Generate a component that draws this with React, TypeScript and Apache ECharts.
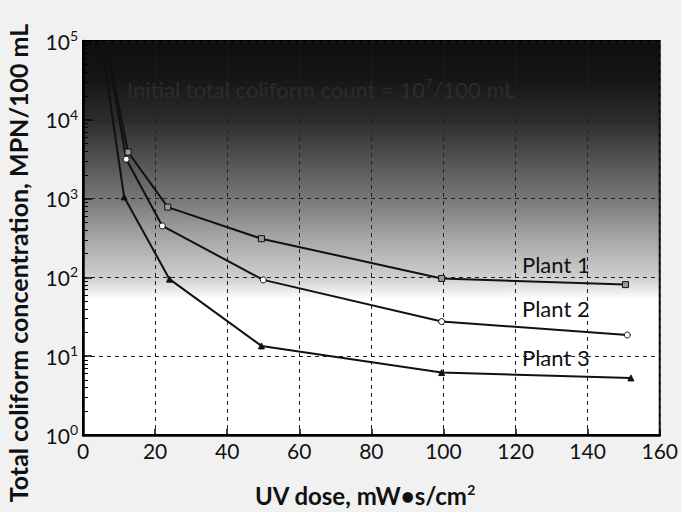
import React, { useEffect, useRef } from "react";
import * as echarts from "echarts";

const xTicks = [0, 20, 40, 60, 80, 100, 120, 140, 160];
const yTicks = [1, 10, 100, 1000, 10000, 100000];

const plant1Dose = [6.3, 12.5, 23.5, 49.5, 99.5, 150.5];
const plant1Count = [100000, 3900, 780, 310, 97, 81];
const plant2Dose = [6.3, 12, 22, 50, 99.5, 151];
const plant2Count = [100000, 3160, 450, 93, 27.5, 18.6];
const plant3Dose = [5.1, 11.4, 24, 49.5, 99.5, 152];
const plant3Count = [100000, 1050, 95, 13.5, 6.2, 5.3];

const plantNames = ["Plant 1", "Plant 2", "Plant 3"];

const FONT = "Lato, 'Open Sans', sans-serif";

function build(dose: number[], count: number[]) {
  return dose.map((d, i) =>
    i === 0 ? { value: [d, count[i]], symbol: "none" } : { value: [d, count[i]] }
  );
}

export default function App() {
  const ref = useRef<HTMLDivElement>(null);
  useEffect(() => {
    if (!ref.current) return;
    const chart = echarts.init(ref.current, null, { renderer: "svg" });
    const lineStyle = { color: "#111", width: 2 };
    const bg = new echarts.graphic.LinearGradient(0, 0, 0, 1, [
      { offset: 0, color: "#0e0e0e" },
      { offset: 0.1, color: "#161616" },
      { offset: 0.2, color: "#2c2c2c" },
      { offset: 0.4, color: "#777777" },
      { offset: 0.5, color: "#a6a6a6" },
      { offset: 0.6, color: "#cfcfcf" },
      { offset: 0.635, color: "#ececec" },
      { offset: 0.655, color: "#ffffff" },
      { offset: 1, color: "#ffffff" },
    ]);
    chart.setOption({
      animation: false,
      backgroundColor: "#f1f1f1",
      grid: {
        left: 83,
        right: 16,
        top: 41,
        bottom: 77,
        show: true,
        backgroundColor: bg,
        borderColor: "#000",
        borderWidth: 2,
      },
      xAxis: {
        type: "value",
        min: 0,
        max: 160,
        interval: 20,
        axisLine: { show: true, lineStyle: { color: "#000", width: 2.5 } },
        axisTick: { show: true, inside: true, length: 6, lineStyle: { color: "#000", width: 1.5 } },
        axisLabel: {
          color: "#111",
          fontSize: 21,
          fontFamily: FONT,
          margin: 5,
          formatter: (v: number) => (xTicks.includes(v) ? String(v) : ""),
        },
        splitLine: { show: true, lineStyle: { color: "#222", type: [4, 4], width: 1 } },
      },
      yAxis: {
        type: "log",
        logBase: 10,
        min: yTicks[0],
        max: yTicks[yTicks.length - 1],
        axisLine: { show: true, lineStyle: { color: "#000", width: 2.5 } },
        axisTick: { show: true, inside: true, length: 9, lineStyle: { color: "#000", width: 1.5 } },
        minorTick: { show: true, splitNumber: 9, length: 5, lineStyle: { color: "#000", width: 1 } },
        axisLabel: {
          color: "#111",
          fontFamily: FONT,
          margin: 5,
          formatter: (v: number) => `{b|10}{s|${Math.round(Math.log10(v))}}`,
          rich: {
            b: { fontSize: 21, fontFamily: FONT, color: "#111" },
            s: { fontSize: 14, fontFamily: FONT, color: "#111", padding: [0, 0, 11, 0] },
          },
        },
        splitLine: { show: true, lineStyle: { color: "#222", type: [4, 4], width: 1 } },
      },
      series: [
        {
          name: plantNames[0],
          type: "line",
          data: build(plant1Dose, plant1Count),
          symbol: "rect",
          symbolSize: 6,
          itemStyle: { color: "#9a9a9a", borderColor: "#111", borderWidth: 1 },
          lineStyle,
          z: 3,
        },
        {
          name: plantNames[1],
          type: "line",
          data: build(plant2Dose, plant2Count),
          symbol: "circle",
          symbolSize: 6,
          itemStyle: { color: "#fff", borderColor: "#111", borderWidth: 1 },
          lineStyle,
          z: 3,
        },
        {
          name: plantNames[2],
          type: "line",
          data: build(plant3Dose, plant3Count),
          symbol: "triangle",
          symbolSize: 6,
          itemStyle: { color: "#111", borderColor: "#111", borderWidth: 1 },
          lineStyle,
          z: 3,
        },
      ],
      graphic: [
        {
          type: "text",
          x: 127,
          y: 89,
          style: {
            text: "{t|Initial total coliform count = 10}{s|7}{t|/100 mL}",
            rich: {
              t: { fontSize: 22, fontFamily: FONT, fill: "#2c2c2c" },
              s: { fontSize: 13, fontFamily: FONT, fill: "#2c2c2c", padding: [0, 0, 11, 0] },
            },
            verticalAlign: "middle",
          },
          z: 10,
        },
        {
          type: "text",
          x: 522,
          y: 264,
          style: { text: plantNames[0], fontSize: 22, fontFamily: FONT, fill: "#111", verticalAlign: "middle" },
          z: 10,
        },
        {
          type: "text",
          x: 522,
          y: 308,
          style: { text: plantNames[1], fontSize: 22, fontFamily: FONT, fill: "#111", verticalAlign: "middle" },
          z: 10,
        },
        {
          type: "text",
          x: 522,
          y: 357,
          style: { text: plantNames[2], fontSize: 22, fontFamily: FONT, fill: "#111", verticalAlign: "middle" },
          z: 10,
        },
        {
          type: "text",
          x: 18,
          y: 263,
          rotation: Math.PI / 2,
          style: {
            text: "Total coliform concentration, MPN/100 mL",
            fontSize: 25,
            fontWeight: "bold",
            fontFamily: FONT,
            fill: "#111",
            align: "center",
            verticalAlign: "middle",
          },
        },
        {
          type: "text",
          x: 365,
          y: 495,
          style: {
            text: "{t|UV dose, mW•s/cm}{s|2}",
            rich: {
              t: { fontSize: 24, fontWeight: "bold", fontFamily: FONT, fill: "#111" },
              s: { fontSize: 14, fontWeight: "bold", fontFamily: FONT, fill: "#111", padding: [0, 0, 11, 0] },
            },
            align: "center",
            verticalAlign: "middle",
          },
        },
      ],
    });
    return () => chart.dispose();
  }, []);
  return (
    <div
      ref={ref}
      style={{ position: "fixed", left: 0, top: 0, width: 681, height: 512 }}
    />
  );
}
